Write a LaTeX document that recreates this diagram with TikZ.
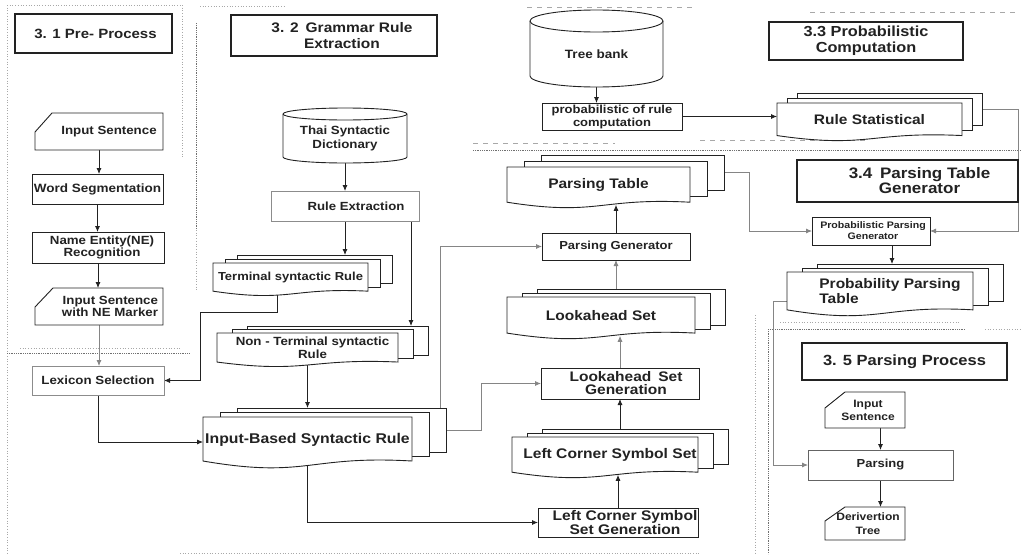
\documentclass[tikz,border=0pt]{standalone}
\usepackage{fontspec}
\setmainfont{Liberation Sans}[FakeStretch=1.12]
\usetikzlibrary{calc,arrows.meta}
\definecolor{ink}{HTML}{222222}
\definecolor{lgray}{HTML}{8C8C8C}
\definecolor{sepc}{HTML}{A8A8A8}
\definecolor{sepd}{HTML}{707070}
\pgfdeclarelayer{bg}
\pgfsetlayers{bg,main}
\newcommand\fs[2]{\fontsize{\fpeval{#1/1.12}}{#2}\selectfont\bfseries}
\tikzset{
  box/.style={draw=ink, line width=0.9pt, fill=white, inner sep=0pt, outer sep=0pt},
  lbox/.style={box, draw=lgray},
  pbox/.style={box, draw=ink!70},
  titlebox/.style={box, line width=1.1pt},
  layerbox/.style={draw=ink, line width=0.9pt, fill=white, inner sep=0pt, outer sep=0pt},
  docline/.style={draw=ink, line width=0.9pt, fill=white},
  txt/.style={inner sep=0pt, align=center, text=ink},
  arr/.style={draw=ink, line width=0.8pt, -{Latex[length=6pt,width=5pt]}},
  arrl/.style={arr, draw=ink!55},
  sepdot/.style={draw=sepc, line width=0.7pt, dotted},
  sepdark/.style={draw=sepd, line width=0.8pt, densely dotted},
  sepdash/.style={draw=sepc, line width=0.8pt, dash pattern=on 5pt off 5pt},
}
% box with separate text node: name x1 y1 x2 y2 boxstyle textstyle text
\newcommand\bx[8]{%
 \node[#6, minimum width={(#4)-(#2)}, minimum height={(#5)-(#3)}] (#1) at ({((#2)+(#4))/2},{((#3)+(#5))/2}) {};
 \node[txt, #7] (#1-t) at (#1.center) {#8};}
\newcommand\mdoc[9]{%
 \pgfmathsetmacro\wa{0.12*((#5)-(#3))}%
 \node[inner sep=0pt, outer sep=0pt, minimum width={(#4)-(#2)}, minimum height={(#5)-(#3)}] (#1) at ({((#2)+(#4))/2},{((#3)+(#5))/2}) {};
 \node[layerbox, minimum width={(#4)-(#2)}, minimum height={(#5)-(#3)-\wa}] (#1-b) at ({((#2)+(#4))/2+2*(#6)},{((#3)+(#5)-\wa)/2-2*(#7)}) {};
 \node[layerbox, minimum width={(#4)-(#2)}, minimum height={(#5)-(#3)-\wa}] (#1-m) at ({((#2)+(#4))/2+(#6)},{((#3)+(#5)-\wa)/2-(#7)}) {};
 \draw[docline] (#1.north west) -- (#1.north east) -- ($(#1.south east)+(0,-\wa)$) .. controls ($(#1.south)+(0,-2*\wa)$) and ($(#1.south)+(0,2*\wa)$) .. ($(#1.south west)+(0,-\wa)$) -- cycle;
 \coordinate (#1-s) at ($(#1.south)+(0,-0.45*\wa)$);
 \node[txt, #8] (#1-t) at ($(#1.center)+(0,-0.4*\wa)$) {#9};
}
\newcommand\cyl[8]{%
 \node[inner sep=0pt, outer sep=0pt, minimum width={(#4)-(#2)}, minimum height={(#5)-(#3)}] (#1) at ({((#2)+(#4))/2},{((#3)+(#5))/2}) {};
 \pgfmathsetmacro\rx{((#4)-(#2))/2}%
 \draw[docline] ($(#1.north west)+(0,#6)$) -- ($(#1.south west)+(0,-#6)$) arc[start angle=180, end angle=0, x radius=\rx, y radius=#6] -- ($(#1.north east)+(0,#6)$) arc[start angle=0, end angle=-180, x radius=\rx, y radius=#6] -- cycle;
 \draw[docline, fill=none] ($(#1.north east)+(0,#6)$) arc[start angle=0, end angle=180, x radius=\rx, y radius=#6];
 \node[txt, #7] (#1-t) at ($(#1.center)+(0,#6/2)$) {#8};
}
\newcommand\card[9]{%
 \node[inner sep=0pt, outer sep=0pt, minimum width={(#4)-(#2)}, minimum height={(#5)-(#3)}] (#1) at ({((#2)+(#4))/2},{((#3)+(#5))/2}) {};
 \draw[docline] ($(#1.north west)+(#6,0)$) -- (#1.north east) -- (#1.south east) -- (#1.south west) -- ($(#1.north west)+(0,#7)$) -- cycle;
 \node[txt, #8] (#1-t) at (#1.center) {#9};
}
\begin{document}
\begin{tikzpicture}[x=1pt, y=-1pt]
\useasboundingbox (0,0) rectangle (1022,554);
\begin{pgfonlayer}{bg}
\fill[white] (0,0) rectangle (1022,554);
\end{pgfonlayer}

% ---- 3.1
\bx{t31}{15}{14}{172}{53}{titlebox}{font=\fs{15}{16}, xshift=2pt}{3. 1 Pre- Process}
\card{in1}{35}{113}{163}{150}{17}{19}{font=\fs{13.3}{13}, xshift=10pt}{Input Sentence}
\bx{ws}{32}{174}{163}{204}{box}{font=\fs{13.5}{14}}{Word Segmentation}
\bx{ner}{32}{232}{164}{263}{box}{font=\fs{13.3}{12}, xshift=4pt}{Name Entity(NE)\\Recognition}
\card{inm}{35}{288}{163}{325}{18}{19}{font=\fs{13.3}{12.5}, align=right, xshift=11pt}{Input Sentence\\with NE Marker}
\bx{lex}{32}{366}{164}{395}{lbox}{font=\fs{13.3}{14}}{Lexicon Selection}

% ---- 3.2
\bx{t32}{231}{15}{437}{56}{titlebox}{font=\fs{15.5}{15.7}, xshift=8pt}{3. 2\enspace Grammar Rule\\Extraction}
\cyl{dict}{283}{108}{407}{163}{6}{font=\fs{13.3}{14}}{Thai Syntactic\\Dictionary}
\bx{rex}{271}{191}{419}{221}{lbox}{font=\fs{13.2}{14}, xshift=11pt}{Rule Extraction}
\mdoc{term}{213}{263}{368}{295}{12}{4}{font=\fs{13}{14}}{Terminal syntactic Rule}
\mdoc{nterm}{217}{333}{398}{366}{15}{3.5}{font=\fs{13.3}{13}, xshift=5pt}{Non - Terminal syntactic\\Rule}
\mdoc{ibr}{203}{417}{412}{467}{17}{4.5}{font=\fs{15.8}{16}}{Input-Based Syntactic Rule}

% ---- centre column
\cyl{tree}{530}{10}{663}{87}{11}{font=\fs{13.5}{14}}{Tree bank}
\bx{prc}{542}{103}{682}{130}{box}{font=\fs{13}{13}}{probabilistic of rule\\computation}
\mdoc{ptab}{507}{167}{690}{207}{17}{6}{font=\fs{15.5}{16}}{Parsing Table}
\bx{pgen}{542}{233}{690}{260}{box}{font=\fs{13}{14}}{Parsing Generator}
\mdoc{look}{507}{297}{695}{338}{15}{4}{font=\fs{15.5}{16}}{Lookahead Set}
\bx{lsg}{541}{368}{699}{399}{box}{font=\fs{15.5}{13}, xshift=6pt}{Lookahead\enspace Set\\Generation}
\mdoc{lcss}{512}{437}{698}{477}{15}{4}{font=\fs{15.6}{16}, xshift=5pt}{Left Corner Symbol Set}
\bx{lcsg}{538}{508}{698}{537}{box}{font=\fs{15.6}{12.5}, xshift=7pt}{Left Corner Symbol\\Set Generation}

% ---- right column
\bx{t33}{769}{22}{963}{60}{titlebox}{font=\fs{16.3}{16}}{3.3 Probabilistic\\Computation}
\mdoc{rstat}{777}{103}{962}{140}{10}{5}{font=\fs{15.5}{16}}{Rule Statistical}
\bx{t34}{797}{160}{1018}{202}{titlebox}{font=\fs{17}{15}, xshift=12pt}{3.4\enspace Parsing Table\\Generator}
\bx{ppg}{812}{217}{930}{245}{box}{font=\fs{10.6}{11}, xshift=2pt}{Probabilistic Parsing\\Generator}
\mdoc{pptab}{787}{272}{973}{315}{15}{4}{font=\fs{15.5}{15}, align=left, xshift=10pt}{Probability Parsing\\Table}
\bx{t35}{802}{343}{1007}{380}{titlebox}{font=\fs{16.5}{16}}{3. 5 Parsing Process}
\card{in2}{825}{392}{905}{428}{20}{16}{font=\fs{12}{13}, xshift=3pt}{Input\\Sentence}
\bx{pars}{808}{450}{953}{480}{pbox}{font=\fs{13}{14}}{Parsing}
\card{dtree}{825}{507}{905}{540}{20}{14}{font=\fs{12}{14}, xshift=3pt}{Derivertion\\Tree}

% ---- connectors and separators (behind the shapes)
\coordinate (tl) at (200,312);
\coordinate (rexo) at ($(rex.south east)+(-8,0)$);
\coordinate (ibro) at ($(ibr-b.north east)+(-6,0)$);
\coordinate (ppgo) at ($(ppg.south)+(21,0)$);
\begin{pgfonlayer}{bg}
\draw[sepdot] (7,5) -- (7,554);
\draw[sepdot] (7,5) -- (180,5);
\draw[sepdot] (182,5) -- (182,157);
\draw[sepdark] (196,23) -- (196,230);
\draw[sepdot] (196,230) -- (196,290);
\draw[sepdark] (7,353) -- (190,353);
\draw[sepdot] (20,348) -- (180,348);
\draw[sepdot] (200,6) -- (285,6);
\draw[sepdash] (527,7) -- (693,7);
\draw[sepdash] (810,12) -- (1017,12);
\draw[sepdash] (473,143) -- (615,143);
\draw[sepdash] (700,140) -- (865,140);
\draw[sepdark] (473,150) -- (1022,150);
\draw[sepdot] (755,315) -- (755,554);
\draw[sepdark] (768,329) -- (768,554);
\draw[sepdark] (768,329) -- (965,329);
\draw[sepdot] (985,329) -- (1022,329);
\draw[sepdot] (780,322) -- (960,322);
\draw[sepdot] (180,553) -- (700,553);

\draw[arr] (in1.south) -- (in1.south |- ws.north);
\draw[arr] (ws.south) -- (ws.south |- ner.north);
\draw[arr] (ner.south) -- (ner.south |- inm.north);
\draw[arrl] (inm.south) -- (inm.south |- lex.north);
\draw[arr] (lex.south) |- (ibr.west);
\draw[arr] ($(term.center)+(-13,0)$) |- (tl) |- (lex.east);
\draw[arr] (dict.south) -- (dict.south |- rex.north);
\draw[arr] (rex.south) -- (rex.south |- term-b.north);
\draw[arr] (rexo) -- (rexo |- nterm-b.north);
\draw[arr] (nterm.center) -- (nterm.center |- ibr-b.north);
\draw[arrl] (ibro) |- (pgen.west);
\draw[arrl] (ibr-b.east) -- ++(35,0) |- (lsg.west);
\draw[arr] (ibr.center) |- (lcsg.west);
\draw[arr] (tree.south) -- (tree.south |- prc.north);
\draw[arr] (prc.east) -- (prc.east -| rstat.west);
\draw[arrl] (rstat-b.east) -- ++(36,0) |- (ppg.east);
\draw[arrl] (ptab-b.east) -- ++(25,0) |- (ppg.west);
\draw[arr] (pgen.north) -- (pgen.north |- ptab-s);
\draw[arrl] (pgen.south |- look-b.north) -- (pgen.south);
\draw[arrl] (lsg.north) -- (lsg.north |- look-s);
\draw[arr] (lsg.south |- lcss-b.north) -- (lsg.south);
\draw[arr] (lcsg.north) -- (lcsg.north |- lcss-s);
\draw[arr] (ppgo) -- (ppgo |- pptab-b.north);
\draw[arrl] ($(pptab.west)+(0,8)$) -- ++(-14,0) |- (pars.west);
\draw[arr] (pars.north |- in2.south) -- (pars.north);
\draw[arr] (pars.south) -- (pars.south |- dtree.north);
\end{pgfonlayer}
\end{tikzpicture}
\end{document}
